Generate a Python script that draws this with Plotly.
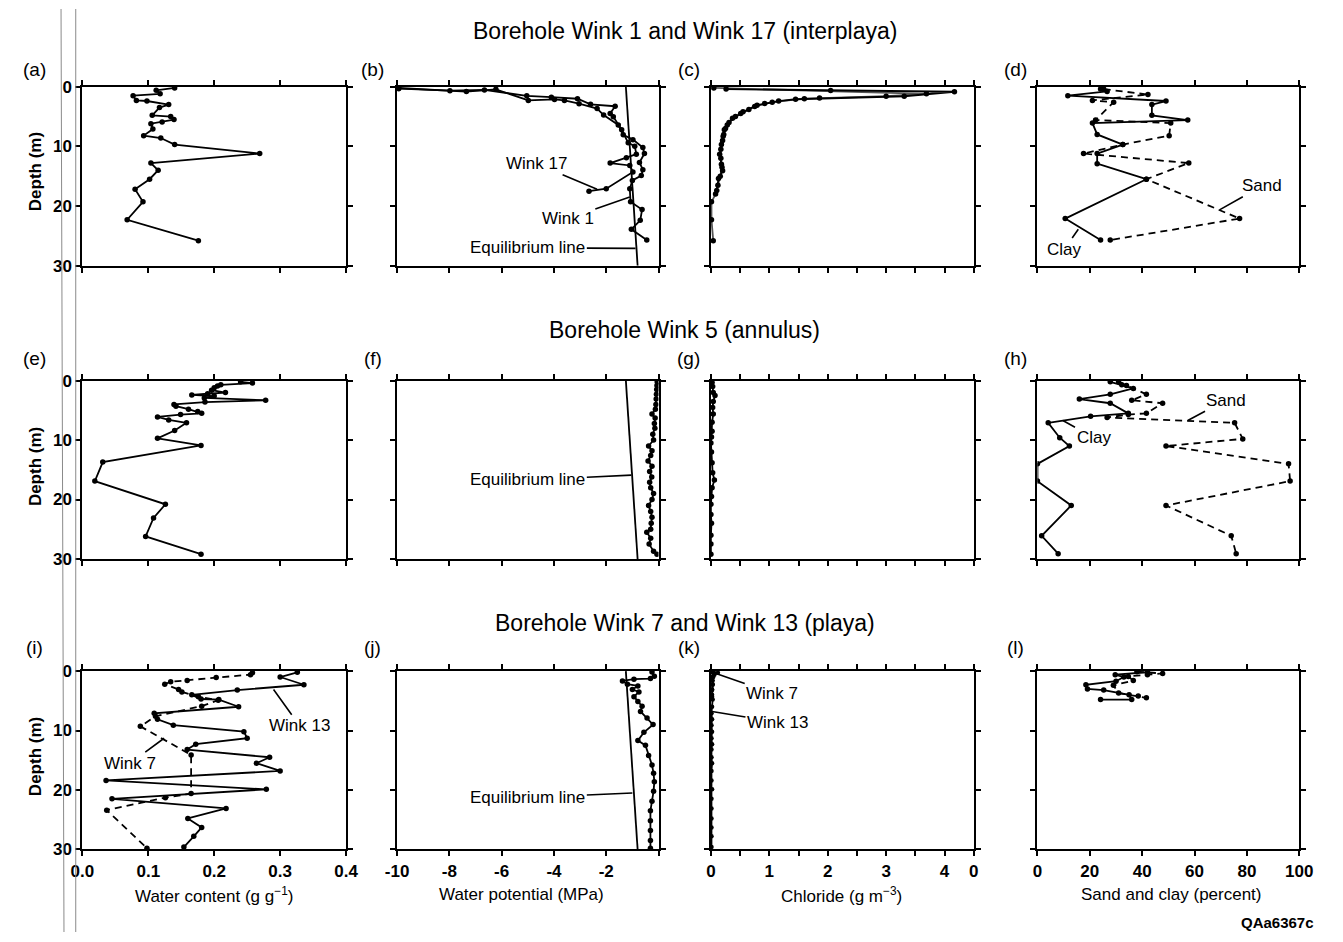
import plotly.graph_objects as go

W, H = 1343, 942

# ---------------- data ----------------
# (a) Wink 1 water content
a_depth = [0.2, 0.6, 1.2, 1.5, 2.3, 2.4, 3.0, 3.5, 4.8, 5.0, 5.5, 5.9, 6.2, 7.1, 8.2, 8.6, 9.7, 11.2, 12.8, 14.0, 15.5, 17.2, 19.3, 22.3, 25.8]
a_wc = [0.14, 0.112, 0.118, 0.077, 0.082, 0.098, 0.131, 0.117, 0.106, 0.134, 0.139, 0.121, 0.104, 0.107, 0.093, 0.119, 0.14, 0.269, 0.104, 0.115, 0.102, 0.08, 0.092, 0.068, 0.176]

# (b) water potential
b17_depth = [0.33, 0.66, 0.55, 1.53, 1.75, 2.02, 2.96, 3.28, 4.49, 5.04, 7.22, 9.4, 9.96, 11.3, 11.9, 12.8, 13.2, 14.3, 17.1, 17.5]
b17_wp = [-9.94, -7.98, -6.66, -5.04, -4.1, -3.1, -2.6, -1.66, -1.85, -1.73, -1.41, -1.16, -0.91, -0.85, -1.23, -1.85, -1.1, -0.98, -2.0, -2.66]
b1_depth = [0.22, 0.82, 0.44, 2.3, 2.13, 2.3, 2.85, 3.66, 4.76, 6.4, 8.05, 8.87, 10.2, 11.2, 12.7, 13.9, 14.9, 15.7, 17.1, 19.3, 20.6, 22.4, 23.9, 25.7]
b1_wp = [-9.94, -7.35, -6.22, -4.98, -3.98, -3.6, -3.04, -2.35, -2.1, -1.54, -1.35, -0.98, -0.6, -0.54, -0.73, -0.6, -0.66, -1.0, -1.1, -1.07, -0.63, -0.7, -1.04, -0.45]
eq_depth = [0, 30]
eq_wp = [-1.25, -0.8]

# (c) chloride
c17_depth = [0.4, 0.65, 0.85, 1.6, 1.9, 2.1, 2.4, 2.8, 3.1, 3.8, 4.5, 5.3, 6.4, 7.2, 8.3, 9.7, 11.3, 13.0, 14.1, 15.4, 17.4]
c17_cl = [0.26, 2.05, 4.17, 3.31, 1.86, 1.45, 1.16, 0.92, 0.79, 0.65, 0.51, 0.37, 0.28, 0.23, 0.21, 0.18, 0.15, 0.18, 0.2, 0.13, 0.1]
c1_depth = [0.2, 1.2, 1.6, 2.0, 2.6, 3.3, 4.2, 5.0, 6.0, 7.0, 8.0, 9.0, 10.5, 12.0, 13.5, 15.0, 16.5, 18.0, 19.3, 22.3, 25.8]
c1_cl = [0.05, 3.69, 3.0, 1.6, 1.05, 0.75, 0.55, 0.42, 0.31, 0.25, 0.22, 0.2, 0.17, 0.17, 0.19, 0.16, 0.12, 0.08, 0.01, 0.01, 0.04]

# (d) sand and clay
d_clay_depth = [0.4, 0.8, 1.5, 2.4, 3.0, 4.8, 5.6, 6.1, 8.0, 9.7, 11.2, 12.9, 15.5, 22.1, 25.7]
d_clay = [24.1, 26.6, 11.6, 49.1, 43.7, 43.7, 57.4, 21.0, 22.8, 32.6, 22.8, 22.8, 41.6, 10.6, 24.1]
d_sand_depth = [0.4, 1.3, 2.3, 2.6, 5.6, 6.1, 8.2, 9.7, 11.2, 12.8, 15.5, 22.1, 25.7]
d_sand = [25.3, 42.2, 21.0, 29.1, 22.2, 50.9, 50.3, 32.6, 17.6, 57.8, 41.6, 77.2, 27.8]

# (e) Wink 5 water content
e_depth = [0.2, 0.4, 0.7, 0.9, 1.2, 1.6, 2.0, 2.2, 2.4, 2.6, 2.9, 3.3, 3.6, 4.0, 4.3, 4.8, 5.2, 5.5, 5.7, 6.1, 6.6, 7.1, 8.4, 9.7, 10.9, 13.7, 16.9, 20.8, 23.1, 26.2, 29.2]
e_wc = [0.24, 0.258, 0.21, 0.205, 0.2, 0.196, 0.217, 0.19, 0.166, 0.2, 0.185, 0.278, 0.186, 0.139, 0.142, 0.161, 0.175, 0.181, 0.149, 0.114, 0.131, 0.158, 0.14, 0.114, 0.18, 0.031, 0.019, 0.126, 0.108, 0.096, 0.18]

# (f) Wink 5 water potential
f_depth = [0.2, 0.8, 1.5, 2.3, 3.1, 4.0, 4.8, 5.6, 6.3, 7.2, 8.0, 9.0, 10.0, 11.0, 11.8, 12.6, 13.5, 14.4, 15.3, 16.2, 17.1, 18.0, 19.0, 20.0, 21.0, 22.0, 23.0, 24.0, 25.0, 25.5, 26.5, 27.5, 28.7, 29.2]
f_wp = [-0.05, -0.06, -0.07, -0.08, -0.09, -0.1, -0.12, -0.25, -0.13, -0.16, -0.14, -0.22, -0.19, -0.38, -0.25, -0.3, -0.4, -0.25, -0.34, -0.26, -0.34, -0.3, -0.19, -0.25, -0.38, -0.3, -0.25, -0.28, -0.3, -0.45, -0.3, -0.36, -0.19, -0.06]

# (g) Wink 5 chloride
g_depth = [0.3, 1.0, 2.0, 2.5, 3.5, 4.5, 5.6, 7.0, 8.5, 9.5, 10.5, 12.0, 13.8, 15.5, 16.7, 18.0, 19.5, 20.8, 22.5, 24.0, 26.0, 27.5, 29.2]
g_cl = [0.02, 0.03, 0.04, 0.07, 0.04, 0.03, 0.04, 0.02, 0.02, 0.01, 0.0, 0.01, 0.02, 0.03, 0.06, 0.02, 0.01, 0.0, 0.0, 0.01, 0.0, 0.0, 0.0]

# (h) Wink 5 sand and clay
h_clay_depth = [0.2, 0.7, 1.3, 2.3, 3.1, 3.8, 5.5, 6.0, 7.1, 9.6, 11.0, 14.0, 16.9, 21.0, 26.1, 29.1]
h_clay = [27.8, 32.2, 36.6, 27.8, 16.0, 27.8, 34.7, 20.3, 4.1, 8.5, 12.2, 0.0, 0.0, 12.9, 1.6, 7.9]
h_sand_depth = [0.2, 0.8, 2.3, 3.3, 3.8, 5.5, 5.7, 6.2, 7.1, 9.8, 11.0, 14.0, 16.9, 21.0, 26.1, 29.1]
h_sand = [31.0, 34.0, 41.6, 36.0, 47.8, 41.6, 34.7, 26.6, 75.3, 78.4, 49.1, 95.9, 96.5, 49.1, 74.0, 75.9]

# (i) Wink 13 (solid) and Wink 7 (dashed) water content
i13_depth = [0.2, 1.0, 2.3, 3.2, 4.0, 4.7, 4.8, 6.0, 7.1, 8.1, 9.1, 10.2, 11.3, 12.3, 13.2, 14.5, 15.5, 16.8, 18.4, 19.9, 21.5, 23.1, 24.8, 26.3, 27.8, 29.6]
i13_wc = [0.326, 0.3, 0.336, 0.235, 0.166, 0.18, 0.207, 0.237, 0.109, 0.114, 0.138, 0.245, 0.25, 0.172, 0.159, 0.284, 0.264, 0.3, 0.036, 0.279, 0.045, 0.218, 0.16, 0.181, 0.169, 0.154]
i7_depth = [0.3, 0.6, 1.1, 1.6, 1.8, 2.2, 3.1, 3.5, 4.3, 4.9, 5.9, 7.6, 9.3, 14.1, 20.6, 21.3, 23.4, 29.8]
i7_wc = [0.258, 0.255, 0.203, 0.159, 0.134, 0.125, 0.146, 0.151, 0.176, 0.206, 0.181, 0.111, 0.088, 0.165, 0.165, 0.126, 0.037, 0.098]

# (j) water potential
j_depth = [0.16, 0.88, 1.26, 1.37, 1.65, 2.2, 2.5, 3.1, 3.5, 4.3, 5.1, 5.9, 6.8, 7.9, 9.0, 10.3, 11.7, 12.5, 14.2, 15.8, 17.2, 18.6, 20.2, 21.9, 23.5, 25.2, 26.8, 28.5, 29.8]
j_wp = [-0.25, -0.16, -0.31, -0.94, -1.38, -1.19, -0.79, -1.0, -0.75, -0.94, -0.79, -0.63, -0.69, -0.44, -0.21, -0.56, -0.79, -0.5, -0.38, -0.25, -0.19, -0.16, -0.19, -0.25, -0.31, -0.31, -0.31, -0.31, -0.31]

# (k) chloride
k7_depth = [0.1, 0.3, 0.6, 1.0, 1.6, 2.2, 3.1, 4.3]
k7_cl = [0.04, 0.12, 0.06, 0.04, 0.03, 0.03, 0.02, 0.02]
k13_depth = [0.2, 1.0, 2.3, 3.2, 4.0, 4.8, 6.0, 7.1, 8.1, 9.1, 10.2, 11.3, 12.3, 13.2, 14.5, 15.5, 16.8, 18.4, 19.9, 21.5, 23.1, 24.8, 26.3, 27.8, 29.6]
k13_cl = [0.03, 0.02, 0.03, 0.02, 0.02, 0.03, 0.02, 0.01, 0.02, 0.01, 0.02, 0.01, 0.02, 0.01, 0.01, 0.02, 0.01, 0.01, 0.02, 0.01, 0.01, 0.01, 0.01, 0.01, 0.01]

# (l) sand and clay
l_sand_depth = [0.1, 0.4, 0.6, 0.9, 1.6, 2.4, 3.7, 4.2, 4.5]
l_sand = [38.0, 47.8, 42.0, 34.7, 36.6, 29.0, 31.0, 38.5, 41.6]
l_clay_depth = [0.2, 0.6, 1.0, 1.7, 2.3, 3.0, 3.2, 4.0, 4.8, 4.8]
l_clay = [42.0, 29.7, 33.0, 30.0, 18.5, 19.1, 25.3, 35.0, 36.0, 24.1]

row_titles = ["Borehole Wink 1 and Wink 17 (interplaya)", "Borehole Wink 5 (annulus)",
              "Borehole Wink 7 and Wink 13 (playa)"]
panel_letters = ["(a)", "(b)", "(c)", "(d)", "(e)", "(f)", "(g)", "(h)", "(i)", "(j)", "(k)", "(l)"]
x_titles = ["Water content (g g<sup>\u22121</sup>)", "Water potential (MPa)",
            "Chloride (g m<sup>\u22123</sup>)", "Sand and clay (percent)"]
x_ranges = [[0, 0.4], [-10, 0], [0, 4.5], [0, 100]]
# labelled ticks
x_tickvals = [[0, 0.1, 0.2, 0.3, 0.4], [-10, -8, -6, -4, -2],
              [0, 1, 2, 3, 4, 4.5], [0, 20, 40, 60, 80, 100]]
x_ticktext = [["0.0", "0.1", "0.2", "0.3", "0.4"], ["-10", "-8", "-6", "-4", "-2"],
              ["0", "1", "2", "3", "4", "0"], ["0", "20", "40", "60", "80", "100"]]
# unlabelled ticks
x_minorvals = [[], [0], [0.5, 1.5, 2.5, 3.5], []]
y_tickvals = [0, 10, 20, 30]

# ---------------- layout geometry (pixels) ----------------
cols_px = [(71.7, 340.7), (392.7, 659.3), (712.7, 980.7), (1045.7, 1312.7)]
rows_px = [(79.3, 262.0), (379.3, 561.3), (675.7, 857.7)]

FONT = "Liberation Sans, Arial, Helvetica, sans-serif"

fig = go.Figure()


def ax_id(r, c):
    return r * 4 + c + 1


def add(r, c, x, y, dash="solid", marker=True, width=1.8, size=5.5, color="black"):
    k = ax_id(r, c)
    fig.add_trace(go.Scatter(
        x=x, y=y, mode="lines+markers" if marker else "lines",
        line=dict(color=color, width=width, dash=dash),
        marker=dict(color="black", size=size),
        xaxis="x" + (str(k) if k > 1 else ""), yaxis="y" + (str(k) if k > 1 else ""),
        showlegend=False, hoverinfo="skip"))


DASH = "7px,5px"
add(0, 0, a_wc, a_depth)
add(0, 1, eq_wp, eq_depth, marker=False, width=1.8)
add(0, 1, b17_wp, b17_depth)
add(0, 1, b1_wp, b1_depth)
add(0, 2, c1_cl, c1_depth, color="#555")
add(0, 2, c17_cl, c17_depth)
add(0, 3, d_sand, d_sand_depth, dash=DASH)
add(0, 3, d_clay, d_clay_depth)

add(1, 0, e_wc, e_depth)
add(1, 1, eq_wp, eq_depth, marker=False)
add(1, 1, f_wp, f_depth)
add(1, 2, g_cl, g_depth)
add(1, 3, h_sand, h_sand_depth, dash=DASH)
add(1, 3, h_clay, h_clay_depth)

add(2, 0, i7_wc, i7_depth, dash=DASH)
add(2, 0, i13_wc, i13_depth)
add(2, 1, eq_wp, eq_depth, marker=False)
add(2, 1, j_wp, j_depth)
add(2, 2, k13_cl, k13_depth, size=4.5)
add(2, 2, k7_cl, k7_depth, size=4.5)
add(2, 3, l_sand, l_sand_depth, dash=DASH)
add(2, 3, l_clay, l_clay_depth)

axis_common = dict(showline=True, linecolor="black", linewidth=2, mirror="allticks",
                   ticks="outside", ticklen=5, tickwidth=2, tickcolor="black",
                   showgrid=False, zeroline=False,
                   tickfont=dict(family=FONT, size=17, color="black", weight="bold"))

layout = dict(width=W, height=H, margin=dict(l=0, r=0, t=0, b=0),
              paper_bgcolor="white", plot_bgcolor="white", showlegend=False)

for r in range(3):
    for c in range(4):
        k = ax_id(r, c)
        s = str(k) if k > 1 else ""
        x0, x1 = cols_px[c]
        y0, y1 = rows_px[r]
        xa = dict(axis_common)
        xa.update(domain=[x0 / W, x1 / W], range=x_ranges[c], anchor="y" + s,
                  tickmode="array", tickvals=x_tickvals[c], ticktext=x_ticktext[c],
                  showticklabels=(r == 2))
        if x_minorvals[c]:
            xa["minor"] = dict(tickmode="array", tickvals=x_minorvals[c], ticks="outside",
                               ticklen=5, tickwidth=2, tickcolor="black", showgrid=False)
        ya = dict(axis_common)
        ya.update(domain=[1 - y1 / H, 1 - y0 / H], range=[30, 0], anchor="x" + s,
                  tickmode="array", tickvals=y_tickvals, showticklabels=(c == 0))
        layout["xaxis" + s] = xa
        layout["yaxis" + s] = ya

ann = []


def ptext(x, y, text, size=17, weight="normal", angle=0):
    ann.append(dict(xref="paper", yref="paper", x=x / W, y=1 - y / H, text=text,
                    showarrow=False, textangle=angle, xanchor="center", yanchor="middle",
                    font=dict(family=FONT, size=size, color="black", weight=weight)))


row_title_y = [22, 328, 627]
for r in range(3):
    ptext(686, row_title_y[r], row_titles[r], size=23)

letter_x = [23, 368, 690, 1023]
letter_y = [62, 357, 652]
for r in range(3):
    for c in range(4):
        ptext(letter_x[c], letter_y[r], panel_letters[r * 4 + c], size=19)

depth_y = [166, 467, 763]
for r in range(3):
    ptext(24, depth_y[r], "Depth (m)", size=17, weight="bold", angle=-90)

xt_x = [206, 520, 846, 1182]
for c in range(4):
    ptext(xt_x[c], 904, x_titles[c], size=17)

ptext(1290, 932, "QAa6367c", size=15, weight="bold")


def leader(r, c, tip_x, tip_y, txt_x, txt_y, text):
    k = ax_id(r, c)
    s = str(k) if k > 1 else ""
    ann.append(dict(xref="x" + s, yref="y" + s, axref="x" + s, ayref="y" + s,
                    x=tip_x, y=tip_y, ax=txt_x, ay=txt_y, text=text,
                    showarrow=True, arrowhead=0, arrowwidth=1.6, arrowcolor="black",
                    standoff=0, startstandoff=0,
                    font=dict(family=FONT, size=17, color="black")))


leader(0, 1, -2.35, 17.2, -4.66, 12.9, "Wink 17")
leader(0, 1, -1.1, 18.5, -3.47, 22.1, "Wink 1")
leader(0, 1, -0.88, 27.1, -5.0, 27.0, "Equilibrium line")
leader(0, 3, 69.7, 20.6, 85.9, 16.6, "Sand")
leader(0, 3, 15.6, 23.9, 10.3, 27.2, "Clay")
leader(1, 1, -1.04, 15.9, -5.0, 16.7, "Equilibrium line")
leader(1, 3, 57.4, 6.7, 71.9, 3.3, "Sand")
leader(1, 3, 9.7, 6.7, 21.6, 9.6, "Clay")
leader(2, 0, 0.29, 3.1, 0.3295, 9.2, "Wink 13")
leader(2, 0, 0.124, 11.3, 0.073, 15.5, "Wink 7")
leader(2, 1, -1.0, 20.5, -5.0, 21.3, "Equilibrium line")
leader(2, 2, 0.05, 0.3, 1.05, 3.7, "Wink 7")
leader(2, 2, 0.02, 6.8, 1.14, 8.6, "Wink 13")

layout["annotations"] = ann
layout["shapes"] = [
    dict(type="line", xref="paper", yref="paper", x0=50 / W, x1=53 / W, y0=1, y1=0,
         line=dict(color="#8a8a8a", width=1)),
    dict(type="line", xref="paper", yref="paper", x0=65 / W, x1=65 / W, y0=1, y1=0,
         line=dict(color="#8a8a8a", width=1)),
]

fig.update_layout(**layout)
fig.write_html("out.html")
